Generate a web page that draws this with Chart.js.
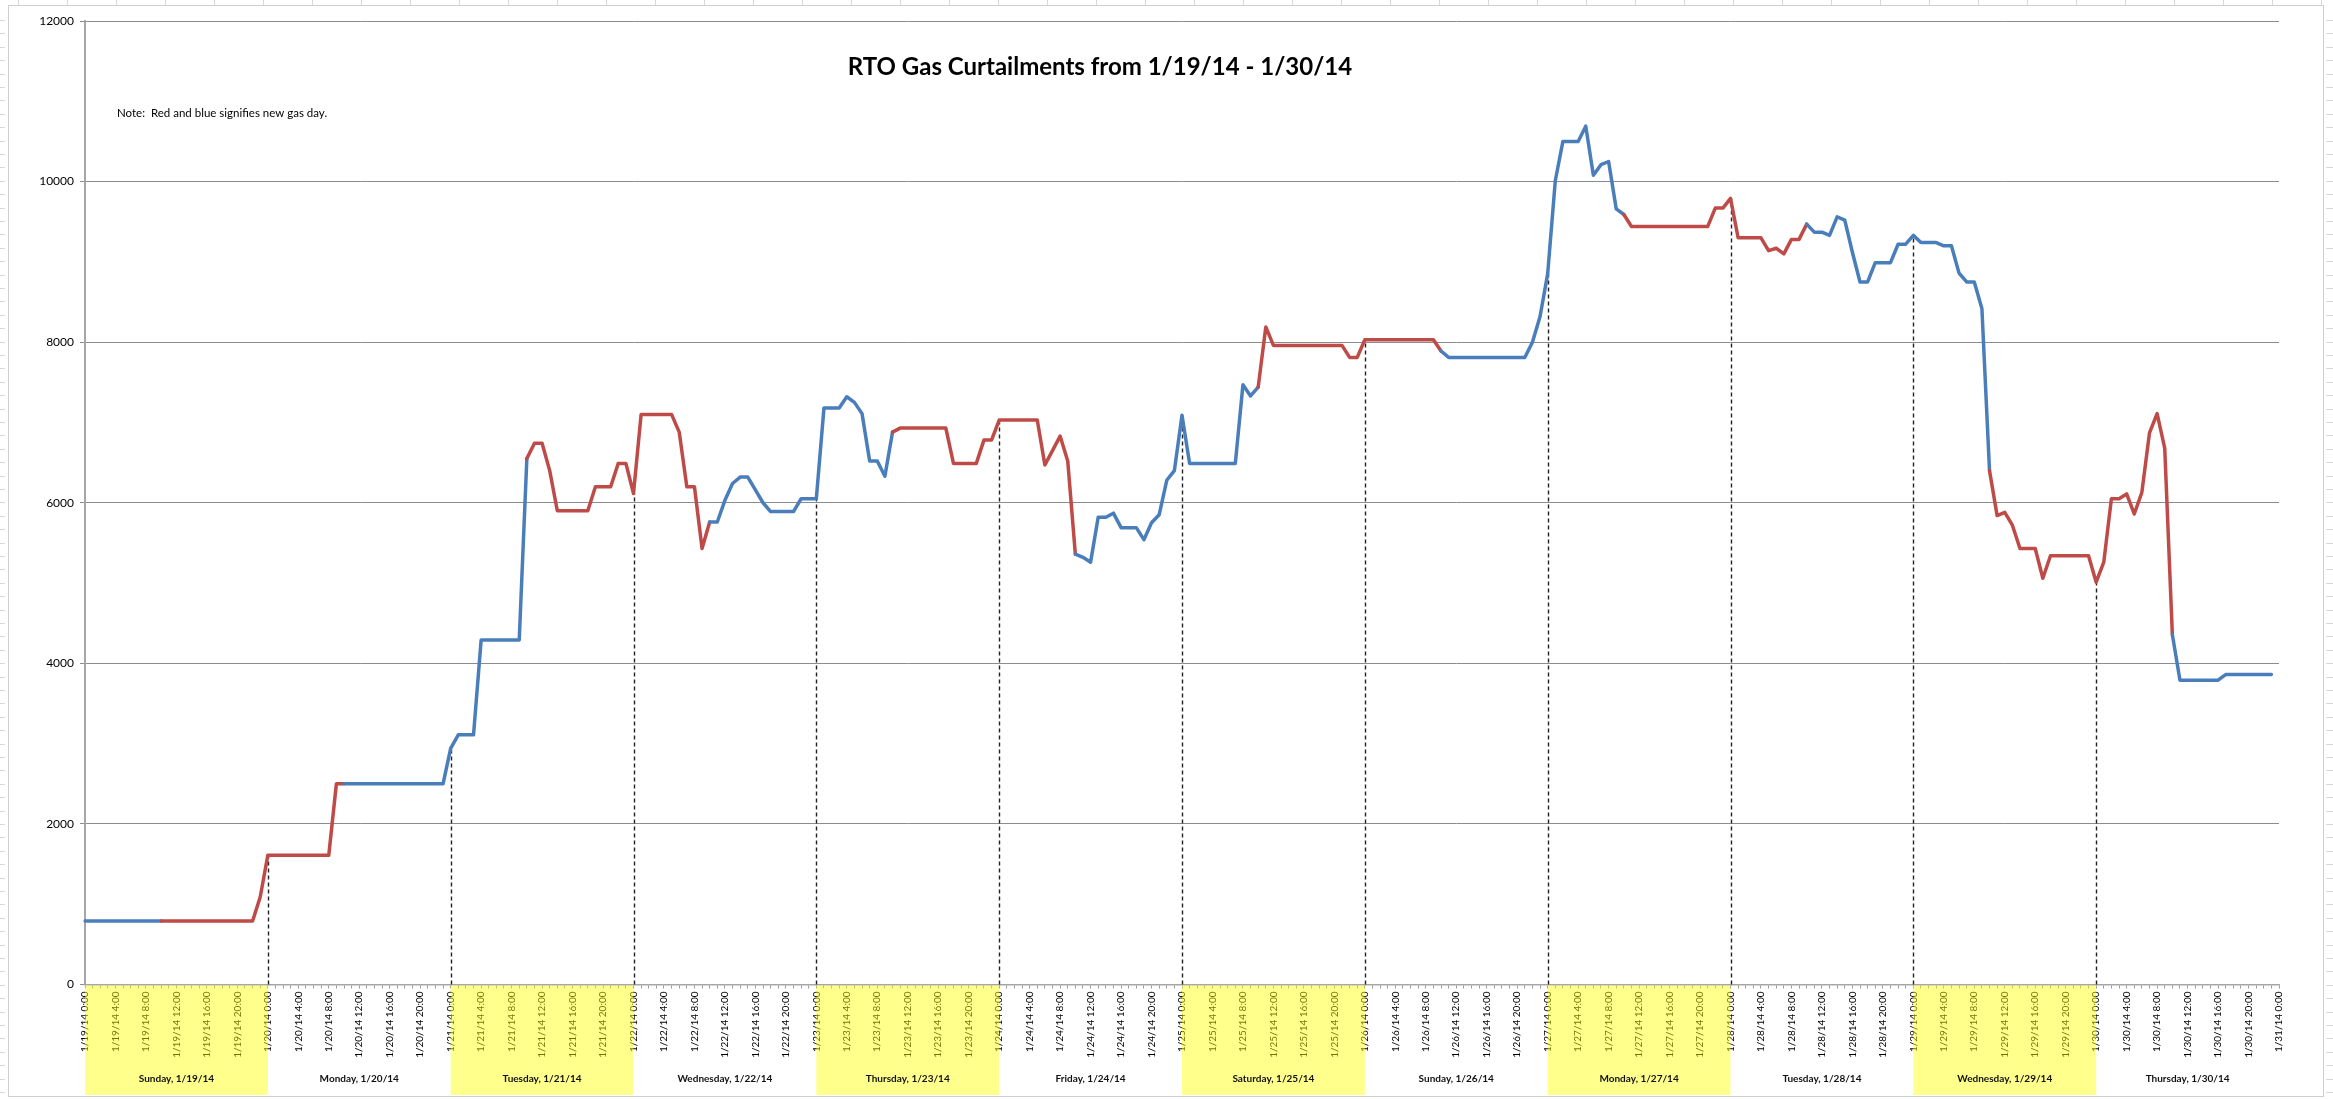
<!DOCTYPE html>
<html>
<head>
<meta charset="utf-8">
<script src="https://cdn.jsdelivr.net/npm/chart.js@4.4.1/dist/chart.umd.min.js"></script>
<style>
  html, body { margin: 0; padding: 0; background: #fff; overflow: hidden; }
  canvas { display: block; }
</style>
</head>
<body>
<canvas id="c" width="2333" height="1099"></canvas>
<script>
// hourly curtailment values, one array per calendar day (0:00 .. 23:00)
const jan19 = [790, 790, 790, 790, 790, 790, 790, 790, 790, 790, 790, 790, 790, 790, 790, 790, 790, 790, 790, 790, 790, 790, 790, 1090];
const jan20 = [1610, 1610, 1610, 1610, 1610, 1610, 1610, 1610, 1610, 2500, 2500, 2500, 2500, 2500, 2500, 2500, 2500, 2500, 2500, 2500, 2500, 2500, 2500, 2500];
const jan21 = [2940, 3110, 3110, 3110, 4290, 4290, 4290, 4290, 4290, 4290, 6550, 6740, 6740, 6400, 5900, 5900, 5900, 5900, 5900, 6200, 6200, 6200, 6490, 6490];
const jan22 = [6115, 7100, 7100, 7100, 7100, 7100, 6880, 6200, 6200, 5430, 5760, 5760, 6030, 6240, 6320, 6320, 6160, 6000, 5890, 5890, 5890, 5890, 6050, 6050];
const jan23 = [6050, 7180, 7180, 7180, 7320, 7250, 7110, 6520, 6520, 6330, 6880, 6930, 6930, 6930, 6930, 6930, 6930, 6930, 6490, 6490, 6490, 6490, 6780, 6780];
const jan24 = [7030, 7030, 7030, 7030, 7030, 7030, 6470, 6650, 6830, 6520, 5360, 5320, 5260, 5820, 5820, 5870, 5690, 5690, 5690, 5540, 5750, 5850, 6280, 6400];
const jan25 = [7090, 6490, 6490, 6490, 6490, 6490, 6490, 6490, 7470, 7330, 7440, 8190, 7960, 7960, 7960, 7960, 7960, 7960, 7960, 7960, 7960, 7960, 7810, 7810];
const jan26 = [8030, 8030, 8030, 8030, 8030, 8030, 8030, 8030, 8030, 8030, 7890, 7810, 7810, 7810, 7810, 7810, 7810, 7810, 7810, 7810, 7810, 7810, 8000, 8320];
const jan27 = [8850, 10010, 10500, 10500, 10500, 10690, 10080, 10210, 10250, 9660, 9590, 9440, 9440, 9440, 9440, 9440, 9440, 9440, 9440, 9440, 9440, 9440, 9670, 9670];
const jan28 = [9790, 9300, 9300, 9300, 9300, 9140, 9170, 9100, 9280, 9280, 9470, 9370, 9370, 9330, 9560, 9520, 9120, 8750, 8750, 8990, 8990, 8990, 9220, 9220];
const jan29 = [9330, 9240, 9240, 9240, 9200, 9200, 8860, 8750, 8750, 8420, 6400, 5840, 5880, 5720, 5430, 5430, 5430, 5060, 5340, 5340, 5340, 5340, 5340, 5340];
const jan30 = [5010, 5260, 6050, 6050, 6110, 5860, 6130, 6870, 7110, 6680, 4360, 3790, 3790, 3790, 3790, 3790, 3790, 3860, 3860, 3860, 3860, 3860, 3860, 3860];
const jan31 = [null];

const dates = ['1/19/14', '1/20/14', '1/21/14', '1/22/14', '1/23/14', '1/24/14',
  '1/25/14', '1/26/14', '1/27/14', '1/28/14', '1/29/14', '1/30/14'];
const hours = ['0:00', '1:00', '2:00', '3:00', '4:00', '5:00', '6:00', '7:00', '8:00', '9:00', '10:00', '11:00',
  '12:00', '13:00', '14:00', '15:00', '16:00', '17:00', '18:00', '19:00', '20:00', '21:00', '22:00', '23:00'];
const dayNames = ['Sunday, 1/19/14', 'Monday, 1/20/14', 'Tuesday, 1/21/14', 'Wednesday, 1/22/14',
  'Thursday, 1/23/14', 'Friday, 1/24/14', 'Saturday, 1/25/14', 'Sunday, 1/26/14',
  'Monday, 1/27/14', 'Tuesday, 1/28/14', 'Wednesday, 1/29/14', 'Thursday, 1/30/14'];
const yTicks = [0, 2000, 4000, 6000, 8000, 10000, 12000];

const titleText = 'RTO Gas Curtailments from 1/19/14 - 1/30/14';
const noteText = 'Note:  Red and blue signifies new gas day.';

const curtailment = [].concat(jan19, jan20, jan21, jan22, jan23, jan24,
  jan25, jan26, jan27, jan28, jan29, jan30, jan31);
const labels = dates.flatMap((d) => hours.map((h) => d + ' ' + h)).concat(['1/31/14 0:00']);

const BLUE = '#4a7ebb';
const RED = '#be4b48';
const GAS_DAY_START = 10; // gas day rolls over at 10:00

function gasDayColor(i) {
  if (i < GAS_DAY_START) return BLUE;
  return Math.floor((i - GAS_DAY_START) / 24) % 2 === 0 ? RED : BLUE;
}

const FONT = 'Lato, "Noto Sans", sans-serif';

const decor = {
  id: 'decor',
  beforeDatasetsDraw(chart) {
    const { ctx, scales: { x, y } } = chart;
    ctx.save();
    ctx.strokeStyle = '#222';
    ctx.lineWidth = 1.4;
    ctx.setLineDash([4, 3]);
    for (let i = 24; i < curtailment.length; i += 24) {
      const v = curtailment[i];
      if (v == null) continue;
      const px = Math.round(x.getPixelForValue(i)) + 0.5;
      ctx.beginPath();
      ctx.moveTo(px, y.getPixelForValue(0));
      ctx.lineTo(px, y.getPixelForValue(v));
      ctx.stroke();
    }
    ctx.restore();
  },
  afterDraw(chart) {
    const { ctx, chartArea, scales: { x } } = chart;
    ctx.save();
    // day bands under the axis
    dayNames.forEach((name, k) => {
      const x0 = x.getPixelForValue(k * 24);
      const x1 = x.getPixelForValue((k + 1) * 24);
      if (k % 2 === 0) {
        ctx.fillStyle = 'rgba(255,255,0,0.45)';
        ctx.fillRect(x0, chartArea.bottom + 1, x1 - x0, 1095 - chartArea.bottom - 1);
      }
      ctx.fillStyle = '#111';
      ctx.font = 'bold 10px ' + FONT;
      ctx.textAlign = 'center';
      ctx.textBaseline = 'middle';
      ctx.fillText(name, (x0 + x1) / 2, 1079);
    });

    // title and note inside the plot
    ctx.fillStyle = '#000';
    ctx.font = 'bold 24px ' + FONT;
    ctx.textAlign = 'center';
    ctx.textBaseline = 'middle';
    ctx.fillText(titleText, 1100, 67);
    ctx.font = '11.5px ' + FONT;
    ctx.textAlign = 'left';
    ctx.fillText(noteText, 117, 113);

    // sheet frame + ruler marks
    ctx.strokeStyle = '#cfcfcf';
    ctx.lineWidth = 1;
    ctx.strokeRect(8.5, 5.5, 2315, 1091);
    ctx.strokeStyle = '#d8d8d8';
    for (let px = 18; px < 2333; px += 49) {
      ctx.beginPath(); ctx.moveTo(px + 0.5, 0); ctx.lineTo(px + 0.5, 5); ctx.stroke();
    }
    for (let py = 20; py < 1099; py += 13.4) {
      ctx.beginPath(); ctx.moveTo(0, Math.round(py) + 0.5); ctx.lineTo(5, Math.round(py) + 0.5); ctx.stroke();
      ctx.beginPath(); ctx.moveTo(2326, Math.round(py) + 0.5); ctx.lineTo(2333, Math.round(py) + 0.5); ctx.stroke();
    }
    ctx.restore();
  }
};

new Chart(document.getElementById('c'), {
  type: 'line',
  data: {
    labels,
    datasets: [{
      label: 'Curtailment',
      data: curtailment,
      borderWidth: 3.5,
      borderColor: BLUE,
      borderJoinStyle: 'round',
      borderCapStyle: 'round',
      pointRadius: 0,
      tension: 0,
      spanGaps: false,
      segment: { borderColor: (c) => gasDayColor(c.p0DataIndex) },
    }],
  },
  options: {
    responsive: false,
    animation: false,
    devicePixelRatio: 1,
    layout: { padding: { top: 21, right: 54, left: 0, bottom: 0 } },
    plugins: { legend: { display: false }, tooltip: { enabled: false }, title: { display: false } },
    scales: {
      x: {
        offset: false,
        afterFit: (s) => { s.height = 114.5; },
        grid: { drawOnChartArea: false, drawTicks: true, tickLength: 4, color: '#9a9a9a' },
        border: { color: '#a6a6a6', width: 1.5 },
        ticks: {
          autoSkip: false,
          maxRotation: 90,
          minRotation: 90,
          padding: 3,
          color: '#000',
          font: { family: FONT, size: 10 },
          callback: (v, i) => (i % 4 === 0 ? labels[i] : ''),
        },
      },
      y: {
        min: 0,
        max: 12000,
        afterFit: (s) => { s.width = 85; },
        afterBuildTicks: (s) => { s.ticks = yTicks.map((v) => ({ value: v })); },
        grid: { color: '#8c8c8c', lineWidth: 1, tickLength: 5 },
        border: { color: '#a6a6a6', width: 2 },
        ticks: {
          padding: 6,
          color: '#000',
          font: { family: FONT, size: 12 },
          callback: (v) => String(v),
        },
      },
    },
  },
  plugins: [decor],
});
</script>
</body>
</html>
